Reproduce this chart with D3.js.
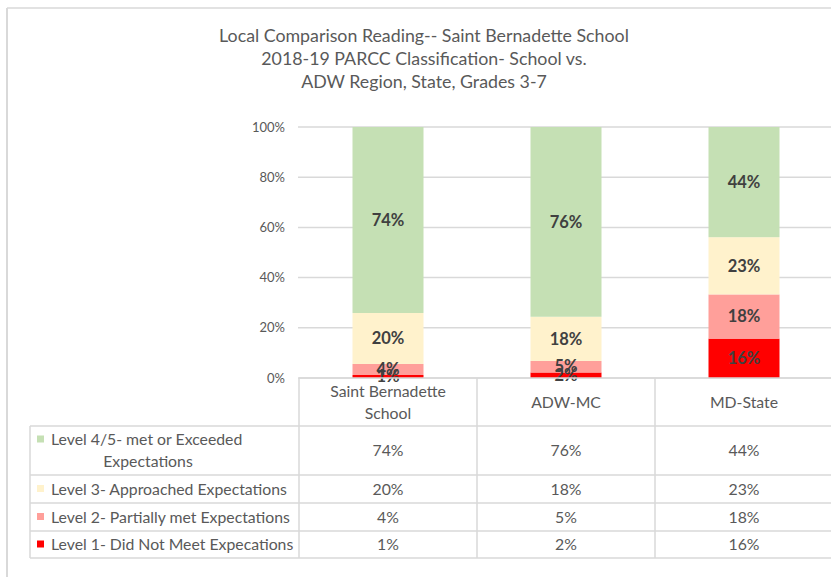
<!DOCTYPE html>
<meta charset="utf-8">
<title>Local Comparison Reading</title>
<style>
  body { margin: 0; background: #fff; }
  svg text { font-family: Lato, "Noto Sans", sans-serif; }
</style>
<body>
<script src="https://cdn.jsdelivr.net/npm/d3@7"></script>
<script>

// data (percent of students; labels are rounded)
var categories = ["Saint Bernadette School", "ADW-MC", "MD-State"];
var categoryLines = [["Saint Bernadette", "School"], ["ADW-MC"], ["MD-State"]];
var levels = ["Level 1- Did Not Meet Expecations", "Level 2- Partially met Expectations",
              "Level 3- Approached Expectations", "Level 4/5- met or Exceeded Expectations"];
var level1 = [1.2, 2.2, 15.7];
var level2 = [4.4, 4.6, 17.6];
var level3 = [20.3, 17.6, 22.8];
var level45 = [74.1, 75.6, 43.9];
var yTicks = [0, 20, 40, 60, 80, 100];
var titleLines = ["Local Comparison Reading-- Saint Bernadette School",
                  "2018-19 PARCC Classification- School vs.",
                  "ADW Region, State, Grades 3-7"];

var colors = ["#ff0000", "#ff9f9a", "#fff2cc", "#c5e0b4"];
var series = [level1, level2, level3, level45];
var pct = function(v) { return d3.format(".0f")(v) + "%"; };

var W = 831, H = 577;
var svg = d3.select("body").append("svg").attr("width", W).attr("height", H);

// outer frame (top and left only visible)
svg.append("line").attr("x1", 7).attr("x2", W).attr("y1", 8).attr("y2", 8)
   .attr("stroke", "#d9d9d9").attr("stroke-width", 1.5);
svg.append("line").attr("x1", 7).attr("x2", 7).attr("y1", 8).attr("y2", H)
   .attr("stroke", "#d9d9d9").attr("stroke-width", 2);

// title
svg.selectAll(".title").data(titleLines).enter().append("text")
   .attr("x", 424).attr("y", function(d, i) { return 42 + i * 23; })
   .attr("text-anchor", "middle")
   .style("font-size", "17.8px").style("fill", "#595959")
   .text(function(d) { return d; });

// scales
var x = d3.scaleBand().domain(categories).range([299, 299 + 178 * 3]).paddingInner(0).paddingOuter(0);
var y = d3.scaleLinear().domain([0, 100]).range([378, 127]);
var barW = 71;

// gridlines
svg.append("g").selectAll("line").data(yTicks).enter().append("line")
   .attr("x1", 298).attr("x2", W)
   .attr("y1", function(d) { return y(d); }).attr("y2", function(d) { return y(d); })
   .attr("stroke", "#d9d9d9").attr("stroke-width", 1.5);

// y axis labels
var yAxis = svg.append("g").attr("transform", "translate(298,0)")
   .call(d3.axisLeft(y).tickValues(yTicks).tickSize(0).tickPadding(13)
      .tickFormat(function(d) { return d + "%"; }));
yAxis.select(".domain").remove();
yAxis.selectAll("text").style("font-size", "13px").style("fill", "#595959")
     .style("font-family", "Lato, 'Noto Sans', sans-serif");

// stacked bars
var rows = categories.map(function(c, i) {
  var r = { cat: c };
  levels.forEach(function(l, k) { r[l] = series[k][i]; });
  return r;
});
var stacked = d3.stack().keys(levels)(rows);

var layers = svg.append("g").selectAll("g").data(stacked).enter().append("g")
   .attr("fill", function(d, k) { return colors[k]; });

layers.selectAll("rect").data(function(d) { return d; }).enter().append("rect")
   .attr("x", function(d) { return x(d.data.cat) + (x.bandwidth() - barW) / 2; })
   .attr("width", barW)
   .attr("y", function(d) { return y(d[1]); })
   .attr("height", function(d) { return y(d[0]) - y(d[1]); });

// data labels
var labels = svg.append("g");
stacked.forEach(function(layer) {
  layer.forEach(function(d) {
    labels.append("text")
      .attr("x", x(d.data.cat) + x.bandwidth() / 2)
      .attr("y", y((d[0] + d[1]) / 2))
      .attr("dy", "0.35em")
      .attr("text-anchor", "middle")
      .style("font-size", "16.5px").style("font-weight", "bold").style("fill", "#404040")
      .text(pct(d[1] - d[0]));
  });
});

// data table
var tableLeft = 30, tableRight = W;
var rowLines = [378, 426, 475, 503, 531, 558];
var grid = "#d9d9d9";
var tbl = svg.append("g");
var fs = "15.8px";

// horizontal lines
tbl.selectAll(".h").data(rowLines).enter().append("line")
   .attr("x1", function(d, i) { return i === 0 ? 299 : tableLeft; })
   .attr("x2", tableRight)
   .attr("y1", function(d) { return d; }).attr("y2", function(d) { return d; })
   .attr("stroke", grid).attr("stroke-width", 1.5);

// vertical lines
var colLines = [299, 477, 655];
tbl.selectAll(".v").data(colLines).enter().append("line")
   .attr("x1", function(d) { return d; }).attr("x2", function(d) { return d; })
   .attr("y1", 378).attr("y2", 558)
   .attr("stroke", grid).attr("stroke-width", 1.5);
tbl.append("line").attr("x1", tableLeft).attr("x2", tableLeft)
   .attr("y1", 426).attr("y2", 558).attr("stroke", grid).attr("stroke-width", 1.5);

// header labels
categoryLines.forEach(function(lines, i) {
  var cx = x(categories[i]) + x.bandwidth() / 2;
  var y0 = lines.length === 2 ? 397 : 408;
  lines.forEach(function(t, j) {
    tbl.append("text").attr("x", cx).attr("y", y0 + j * 22)
      .attr("text-anchor", "middle")
      .style("font-size", fs).style("fill", "#595959").text(t);
  });
});

// table rows (top row is level 4/5)
var tableOrder = [3, 2, 1, 0];
tableOrder.forEach(function(k, r) {
  var top = rowLines[r + 1], bot = rowLines[r + 2];
  var cy = (top + bot) / 2;
  var lineY = r === 0 ? [cy - 11, cy + 11] : [cy];
  // legend key
  tbl.append("rect").attr("x", 37).attr("y", lineY[0] - 4).attr("width", 7).attr("height", 7)
     .attr("fill", colors[k]);
  if (r === 0) {
    tbl.append("text").attr("x", 51).attr("y", lineY[0]).attr("dy", "0.35em")
       .style("font-size", fs).style("fill", "#595959").text("Level 4/5- met or Exceeded");
    tbl.append("text").attr("x", 148).attr("y", lineY[1]).attr("dy", "0.35em")
       .attr("text-anchor", "middle")
       .style("font-size", fs).style("fill", "#595959").text("Expectations");
  } else {
    tbl.append("text").attr("x", 51).attr("y", cy).attr("dy", "0.35em")
       .style("font-size", fs).style("fill", "#595959").text(levels[k]);
  }
  series[k].forEach(function(v, i) {
    tbl.append("text").attr("x", x(categories[i]) + x.bandwidth() / 2).attr("y", cy)
       .attr("dy", "0.35em").attr("text-anchor", "middle")
       .style("font-size", fs).style("fill", "#595959").text(pct(v));
  });
});

</script>
</body>
